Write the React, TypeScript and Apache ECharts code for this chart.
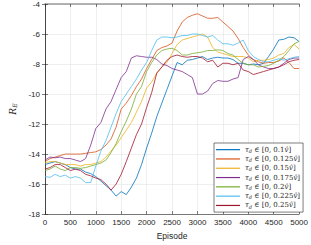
import React, { useEffect, useRef } from "react";
import * as echarts from "echarts";

const EPISODES = [0, 100, 200, 300, 400, 500, 600, 700, 800, 900, 1000, 1100, 1200, 1300, 1400, 1500, 1600, 1700, 1800, 1900, 2000, 2100, 2200, 2300, 2400, 2500, 2600, 2700, 2800, 2900, 3000, 3100, 3200, 3300, 3400, 3500, 3600, 3700, 3800, 3900, 4000, 4100, 4200, 4300, 4400, 4500, 4600, 4700, 4800, 4900, 5000];

const COEFS = ["0.1", "0.125", "0.15", "0.175", "0.2", "0.225", "0.25"];
const COLORS = ["#0072BD", "#D95319", "#EDB120", "#7E2F8E", "#77AC30", "#4DBEEE", "#A2142F"];

const S_010 = [-14.7, -14.6, -14.5, -14.6, -14.7, -14.9, -15.0, -15.0, -15.2, -15.3, -15.5, -15.8, -16.1, -16.4, -16.8, -16.5, -16.7, -16.2, -15.6, -14.7, -13.6, -12.6, -11.5, -10.6, -9.7, -8.8, -7.9, -8.05, -7.75, -7.7, -7.6, -7.5, -7.7, -7.6, -7.55, -7.6, -7.6, -7.7, -7.95, -7.95, -8.05, -8.0, -8.05, -7.95, -7.5, -7.0, -6.4, -6.35, -6.2, -6.25, -6.5];
const S_0125 = [-14.5, -14.3, -14.2, -14.1, -14.0, -14.0, -14.0, -14.0, -13.95, -13.9, -13.85, -13.7, -13.4, -13.0, -12.2, -11.0, -10.6, -10.1, -9.5, -9.0, -8.3, -7.7, -7.1, -6.9, -6.8, -6.6, -5.8, -5.2, -4.9, -4.75, -4.65, -4.8, -4.95, -4.95, -4.9, -5.2, -5.5, -5.8, -6.3, -6.9, -7.4, -7.7, -7.85, -7.95, -7.9, -7.9, -7.8, -7.6, -7.9, -8.3, -8.3];
const S_015 = [-14.6, -14.5, -14.5, -14.6, -14.7, -14.7, -14.7, -14.8, -14.7, -14.7, -14.6, -14.5, -14.2, -13.8, -13.4, -12.9, -12.4, -11.9, -11.2, -10.5, -9.6, -9.2, -8.6, -8.2, -7.9, -7.3, -6.7, -6.4, -6.3, -6.2, -6.1, -6.0, -6.2, -6.9, -7.2, -7.3, -7.4, -7.5, -7.5, -7.5, -7.6, -7.85, -7.75, -7.75, -7.7, -7.6, -7.4, -7.3, -6.9, -6.7, -7.0];
const S_0175 = [-14.4, -14.2, -14.25, -14.2, -14.3, -14.3, -14.4, -14.5, -14.3, -13.4, -12.3, -11.9, -11.0, -10.5, -9.7, -8.9, -8.5, -7.6, -7.45, -7.5, -7.55, -7.55, -7.7, -8.0, -8.1, -8.3, -8.4, -8.5, -8.7, -8.9, -10.0, -10.0, -9.8, -9.3, -9.1, -9.15, -9.15, -9.0, -8.9, -7.7, -7.5, -7.7, -8.05, -8.2, -8.3, -8.3, -8.2, -7.95, -7.7, -7.6, -7.6];
const S_020 = [-15.1, -15.0, -14.8, -15.0, -15.1, -14.9, -14.9, -14.95, -14.9, -14.8, -14.7, -14.6, -14.4, -13.9, -13.3, -12.5, -11.8, -11.0, -10.0, -9.5, -8.5, -7.9, -7.4, -7.1, -7.0, -6.95, -7.1, -7.4, -7.4, -7.3, -7.25, -7.2, -7.1, -7.1, -7.05, -7.1, -7.3, -7.4, -7.7, -7.95, -8.05, -8.05, -8.2, -8.15, -8.1, -7.95, -7.75, -7.5, -7.1, -6.65, -6.5];
const S_0225 = [-15.5, -15.55, -15.35, -15.5, -15.4, -15.6, -15.5, -15.6, -15.9, -15.9, -14.8, -13.8, -13.1, -12.2, -11.3, -10.5, -10.0, -9.5, -9.0, -8.4, -7.9, -7.1, -6.4, -6.2, -6.2, -6.25, -6.2, -6.1, -6.1, -6.0, -6.0, -6.1, -6.2, -6.1, -6.4, -6.65, -6.65, -6.75, -6.6, -6.4, -7.1, -7.5, -7.7, -7.85, -7.85, -7.75, -7.65, -7.75, -7.65, -7.55, -7.5];
const S_025 = [-15.0, -14.9, -14.7, -14.7, -14.9, -15.1, -15.0, -15.1, -15.35, -15.45, -15.6, -15.7, -16.0, -16.4, -16.0, -15.35, -14.5, -13.6, -12.7, -12.0, -10.9, -9.9, -8.6, -8.2, -7.75, -7.5, -7.4, -7.5, -7.55, -7.5, -7.5, -7.6, -7.85, -7.75, -8.2, -7.95, -7.95, -8.05, -7.95, -8.4, -8.5, -8.7, -8.6, -8.5, -8.4, -8.3, -8.2, -8.05, -7.85, -7.75, -7.7];

const SERIES_VALUES = [S_010, S_0125, S_015, S_0175, S_020, S_0225, S_025];

const X_MIN = 0, X_MAX = 5000, X_STEP = 500;
const Y_MIN = -18, Y_MAX = -4, Y_STEP = 2;

const AXIS_COLOR = "#262626";
const GRID_COLOR = "#e3e3e3";
const LABEL_FONT = "'Liberation Sans', Arial, sans-serif";
const SERIF = "'DejaVu Serif', 'Liberation Serif', serif";

export default function App() {
  const ref = useRef<HTMLDivElement>(null);
  useEffect(() => {
    if (!ref.current) return;
    const chart = echarts.init(ref.current, undefined, { renderer: "svg" });
    const names = COEFS.map((c) => `τd ∈ [0, ${c}v̂]`);
    const plain = (v: number) => String(v);
    const option: any = {
      animation: false,
      backgroundColor: "#ffffff",
      grid: { left: 30, right: 11, top: 3, bottom: 28 },
      xAxis: [
        {
          type: "value", min: X_MIN, max: X_MAX, interval: X_STEP,
          axisLine: { show: true, lineStyle: { color: AXIS_COLOR, width: 0.6 } },
          axisTick: { show: true, inside: true, length: 3, lineStyle: { color: AXIS_COLOR, width: 0.6 } },
          axisLabel: { fontSize: 8, color: AXIS_COLOR, margin: 4, fontFamily: LABEL_FONT, formatter: plain },
          splitLine: { show: true, lineStyle: { color: GRID_COLOR, width: 0.6 } },
          name: "Episode", nameLocation: "middle", nameGap: 15,
          nameTextStyle: { fontSize: 8.5, color: AXIS_COLOR, fontFamily: LABEL_FONT },
        },
        {
          type: "value", position: "top", min: X_MIN, max: X_MAX, interval: X_STEP,
          axisLine: { show: true, lineStyle: { color: "#9a9a9a", width: 1.5 } },
          axisTick: { show: true, inside: true, length: 3, lineStyle: { color: AXIS_COLOR, width: 0.6 } },
          axisLabel: { show: false }, splitLine: { show: false },
        },
      ],
      yAxis: [
        {
          type: "value", min: Y_MIN, max: Y_MAX, interval: Y_STEP,
          axisLine: { show: true, lineStyle: { color: AXIS_COLOR, width: 0.6 } },
          axisTick: { show: true, inside: true, length: 3, lineStyle: { color: AXIS_COLOR, width: 0.6 } },
          axisLabel: { fontSize: 8, color: AXIS_COLOR, margin: 5, fontFamily: LABEL_FONT, formatter: plain },
          splitLine: { show: true, lineStyle: { color: GRID_COLOR, width: 0.6 } },
          name: "{i|R}{s|E}", nameLocation: "middle", nameGap: 18, nameRotate: 90,
          nameTextStyle: {
            color: AXIS_COLOR,
            rich: {
              i: { fontSize: 9, fontStyle: "italic", fontFamily: SERIF, color: AXIS_COLOR },
              s: { fontSize: 6, fontStyle: "italic", fontFamily: SERIF, color: AXIS_COLOR, verticalAlign: "bottom", padding: [4, 0, 0, 0] },
            },
          },
        },
        {
          type: "value", position: "right", min: Y_MIN, max: Y_MAX, interval: Y_STEP,
          axisLine: { show: true, lineStyle: { color: AXIS_COLOR, width: 0.6 } },
          axisTick: { show: true, inside: true, length: 3, lineStyle: { color: AXIS_COLOR, width: 0.6 } },
          axisLabel: { show: false }, splitLine: { show: false },
        },
      ],
      legend: {
        show: true, orient: "vertical", left: 214, top: 143,
        backgroundColor: "#ffffff", borderColor: AXIS_COLOR, borderWidth: 0.6,
        padding: [3, 3, 3, 2], itemGap: 2, itemWidth: 24, itemHeight: 1.2, icon: "rect",
        data: names,
        formatter: (name: string) => {
          const idx = names.indexOf(name);
          return `{a|τ}{s|d}{b| ∈ [0, ${COEFS[idx]}}{a|v̂}{b|]}`;
        },
        textStyle: {
          fontSize: 7, color: AXIS_COLOR, lineHeight: 7.3, padding: [0, 0, 0, 0],
          rich: {
            a: { fontSize: 7, fontStyle: "italic", fontFamily: SERIF, color: AXIS_COLOR, lineHeight: 7.3 },
            b: { fontSize: 7, fontFamily: SERIF, color: AXIS_COLOR, lineHeight: 7.3 },
            s: { fontSize: 5, fontStyle: "italic", fontFamily: SERIF, color: AXIS_COLOR, verticalAlign: "bottom", lineHeight: 7.3, padding: [2, 0, 0, 0] },
          },
        },
      },
      series: SERIES_VALUES.map((vals, i) => ({
        name: names[i],
        type: "line",
        xAxisIndex: 0, yAxisIndex: 0,
        showSymbol: false, symbol: "none",
        lineStyle: { color: COLORS[i], width: 0.8 },
        itemStyle: { color: COLORS[i] },
        data: EPISODES.map((e, j) => [e, vals[j]]),
      })),
    };
    chart.setOption(option);
    return () => chart.dispose();
  }, []);
  return <div ref={ref} style={{ width: 311, height: 245, position: "absolute", left: 0, top: 0 }} />;
}
